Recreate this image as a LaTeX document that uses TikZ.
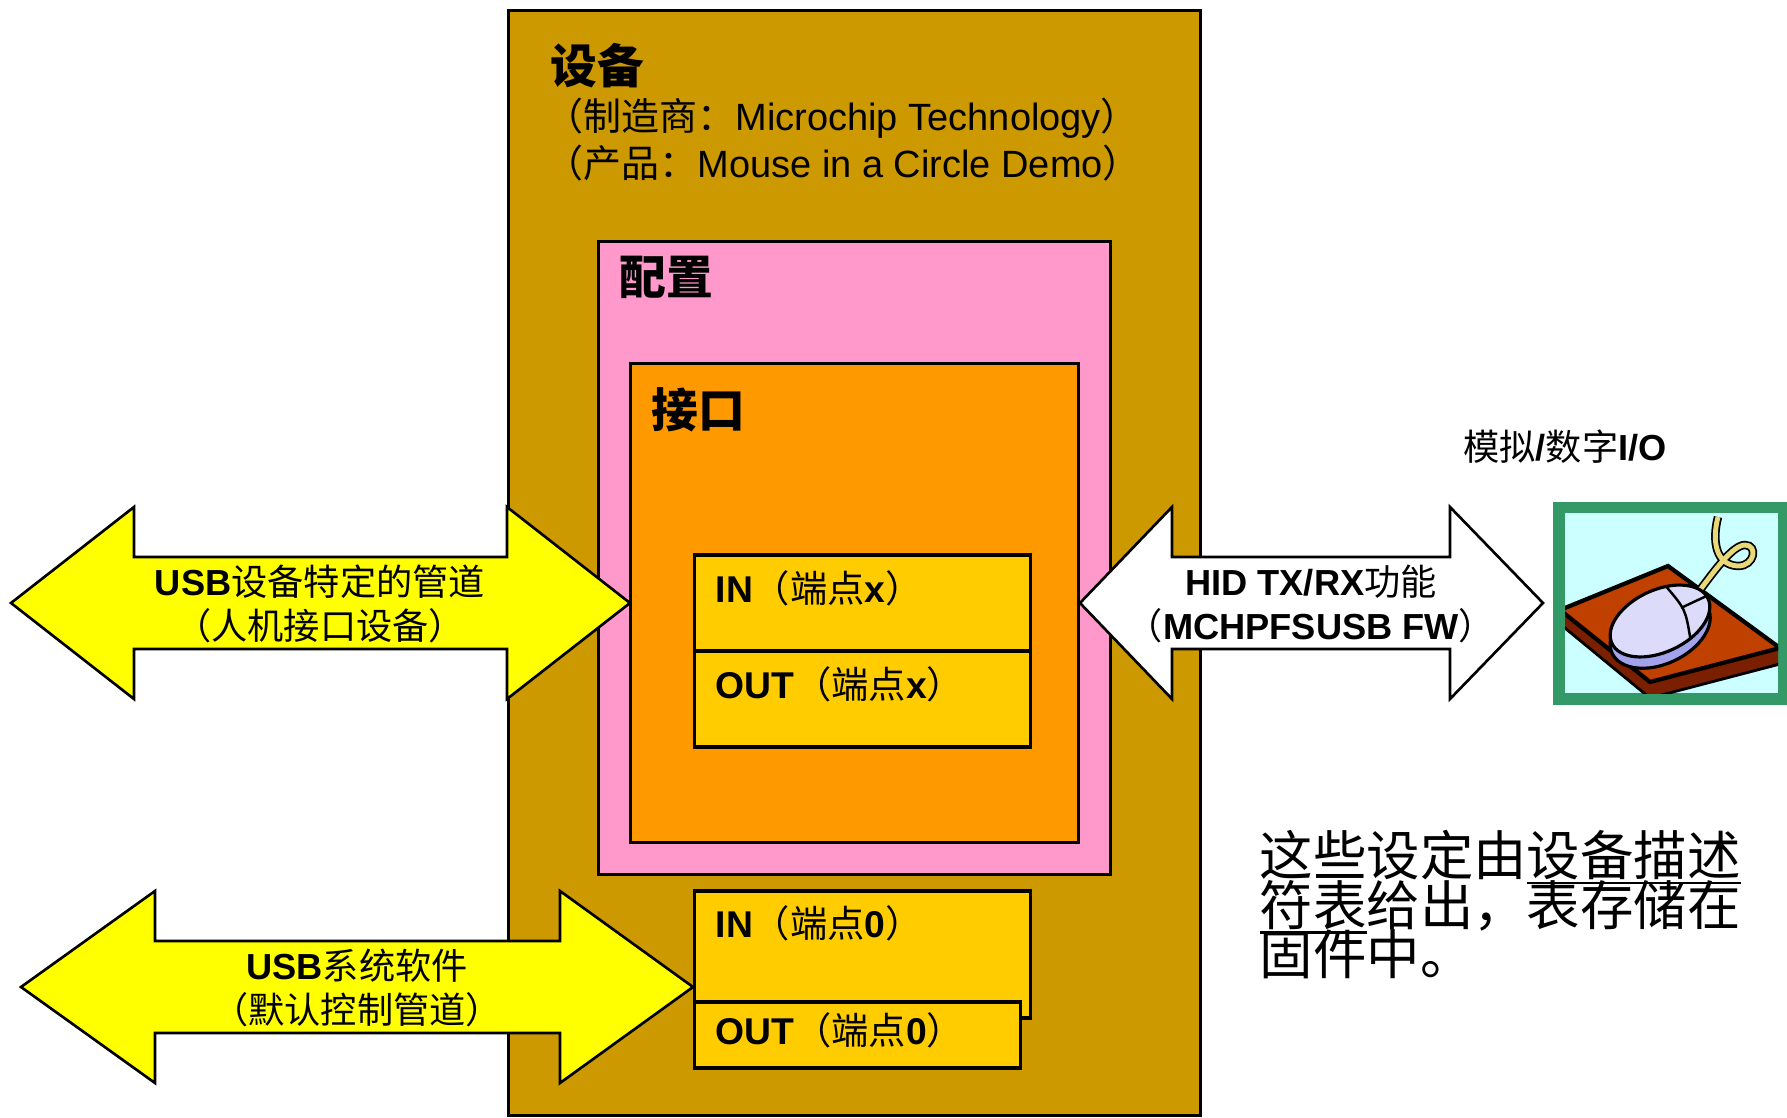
\documentclass[tikz,border=0pt]{standalone}
\usepackage{fontspec}
\setmainfont{Liberation Sans}
\newfontfamily\cjk{Noto Sans CJK SC}
\usetikzlibrary{positioning}
\definecolor{DevGold}{HTML}{CC9900}
\definecolor{CfgPink}{HTML}{FF99CC}
\definecolor{IfOrange}{HTML}{FF9900}
\definecolor{EpYellow}{HTML}{FFCC00}
\definecolor{PipeYellow}{HTML}{FFFF00}
\definecolor{FrameGreen}{HTML}{339966}
\definecolor{PadCyan}{HTML}{CCFFFF}
\definecolor{PadRust}{HTML}{C04000}
\definecolor{PadEdge}{HTML}{7A1F00}
\definecolor{MouseTop}{HTML}{DCDCFA}
\definecolor{MouseSide}{HTML}{A3A3EC}
\definecolor{CordKhaki}{HTML}{E8D978}

\newcommand{\zhs}[1]{{\cjk #1}}
\newcommand{\termline}[1]{\setbox0=\hbox{#1}\rlap{\rule[-2.4pt]{\wd0}{0.8pt}}\box0}
% fat two-headed arrow: [style] tip, head base, head base, tip, axis
\newcommand{\fatarrow}[6][]{%
  \draw[pipe,#1] (#2,#6) -- (#3,#6-96) -- (#3,#6-46) -- (#4,#6-46) -- (#4,#6-96)
    -- (#5,#6) -- (#4,#6+96) -- (#4,#6+46) -- (#3,#6+46) -- (#3,#6+96) -- cycle;}

\begin{document}
\begin{tikzpicture}[x=0.01cm, y=-0.01cm,
    box/.style={draw=black, line width=0.9pt, inner sep=0pt},
    pipe/.style={draw=black, line width=0.75pt, fill=PipeYellow},
    title/.style={font=\cjk\fontsize{13.3}{16}\selectfont, anchor=west, inner sep=0pt},
    info/.style={font=\fontsize{10.8}{12.5}\selectfont, anchor=west, inner sep=0pt},
    lbl/.style={font=\fontsize{10.3}{12.5}\selectfont, align=center, inner sep=0pt},
    ep/.style={font=\fontsize{10.6}{12}\selectfont, anchor=west, inner sep=0pt},
    note/.style={font={\cjk\fontsize{15.2}{14}\selectfont\lineskiplimit=-\maxdimen},
                 align=left, anchor=north west, inner sep=0pt}]
  \useasboundingbox (0,0) rectangle (1787,1118);

  % nested descriptor boxes
  \node[box,fill=DevGold,minimum width=6.91cm,minimum height=11.04cm] (dev) at (854.5,563) {};
  \node[box,fill=CfgPink,minimum width=5.11cm,minimum height=6.32cm] (cfg) at (854.5,558) {};
  \node[box,fill=IfOrange,minimum width=4.47cm,minimum height=4.78cm] (iface) at (854.5,603) {};
  \node[box,fill=EpYellow,minimum width=3.35cm,minimum height=0.96cm] (inx) at (862.5,603) {};
  \node[box,fill=EpYellow,minimum width=3.35cm,minimum height=0.96cm] (outx) at (862.5,699) {};
  \node[box,fill=EpYellow,minimum width=3.35cm,minimum height=1.27cm] (in0) at (862.5,954.5) {};
  \node[box,fill=EpYellow,minimum width=3.25cm,minimum height=0.66cm] (out0) at (857.5,1035) {};

  \node[title] (devname) at (550,66) {\bfseries 设备};
  \node[info] (maker) at (545,118) {\zhs{（制造商：}Microchip Technology\zhs{）}};
  \node[info] (product) at (545,163) {\zhs{（产品：}Mouse in a Circle Demo\zhs{）}};
  \node[title] (cfgname) at (619,277) {\bfseries 配置};
  \node[title] (ifname) at (651,410) {\bfseries 接口};

  \node[ep] (inxlbl) at (715,588) {\textbf{IN}\zhs{（端点}\textbf{x}\zhs{）}};
  \node[ep] (outxlbl) at (715,684) {\textbf{OUT}\zhs{（端点}\textbf{x}\zhs{）}};
  \node[ep] (in0lbl) at (715,923) {\textbf{IN}\zhs{（端点}\textbf{0}\zhs{）}};
  \node[ep] (out0lbl) at (715,1030) {\textbf{OUT}\zhs{（端点}\textbf{0}\zhs{）}};

  % pipes
  \fatarrow{11}{134}{507}{630}{603}
  \fatarrow{21}{155}{560}{693}{987}
  \fatarrow[fill=white]{1080}{1172}{1450}{1543}{603}
  \node[lbl] (usbpipe) at (320,604) {\textbf{USB}\zhs{设备特定的管道}\\\zhs{（人机接口设备）}};
  \node[lbl] (ctlpipe) at (357,988) {\textbf{USB}\zhs{系统软件}\\\zhs{（默认控制管道）}};
  \node[lbl] (hidpipe) at (1311,604) {\textbf{HID TX/RX}\zhs{功能}\\\zhs{（}\textbf{MCHPFSUSB FW}\zhs{）}};

  % mouse on its pad
  \node[lbl] (iolabel) at (1565,447) {\zhs{模拟}\textbf{/}\zhs{数字}\textbf{I/O}};
  \fill[FrameGreen] (1553,502) rectangle (1787,705);
  \fill[PadCyan] (1565,513) rectangle (1778,693);
  \begin{scope}
    \clip (1565,513) rectangle (1778,693);
    \filldraw[fill=PadEdge,line width=0.8pt] (1560,608) -- (1650,682) -- (1780,648)
      -- (1780,664) -- (1650,698) -- (1560,624) -- cycle;
    \filldraw[fill=PadRust,line width=1.2pt] (1560,610) -- (1668,566) -- (1780,648) -- (1650,682) -- cycle;
    \draw[double=CordKhaki,double distance=1.4pt,line width=0.5pt]
      (1718,517) .. controls (1712,540) and (1715,565) .. (1738,566)
      .. controls (1755,566) and (1758,545) .. (1745,545)
      .. controls (1733,545) and (1715,570) .. (1700,590);
    \begin{scope}[shift={(1660,621)}, rotate=25, x=1cm, y=1cm]
      \filldraw[fill=MouseSide,line width=0.9pt] (-0.04,-0.09) ellipse [x radius=0.53, y radius=0.33];
      \filldraw[fill=MouseTop,line width=0.9pt] (0,0) ellipse [x radius=0.53, y radius=0.31];
      \draw[line width=0.7pt] (0.2,-0.29) .. controls (0.28,0) .. (0.2,0.29);
      \draw[line width=0.7pt] (0.25,0.03) -- (0.52,0.03);
    \end{scope}
  \end{scope}

  \node[note] (fwnote) at (1259,830) {这些设定由\termline{设备描述}\\\termline{符表}给出，表存储在\\固件中。};
\end{tikzpicture}
\end{document}
